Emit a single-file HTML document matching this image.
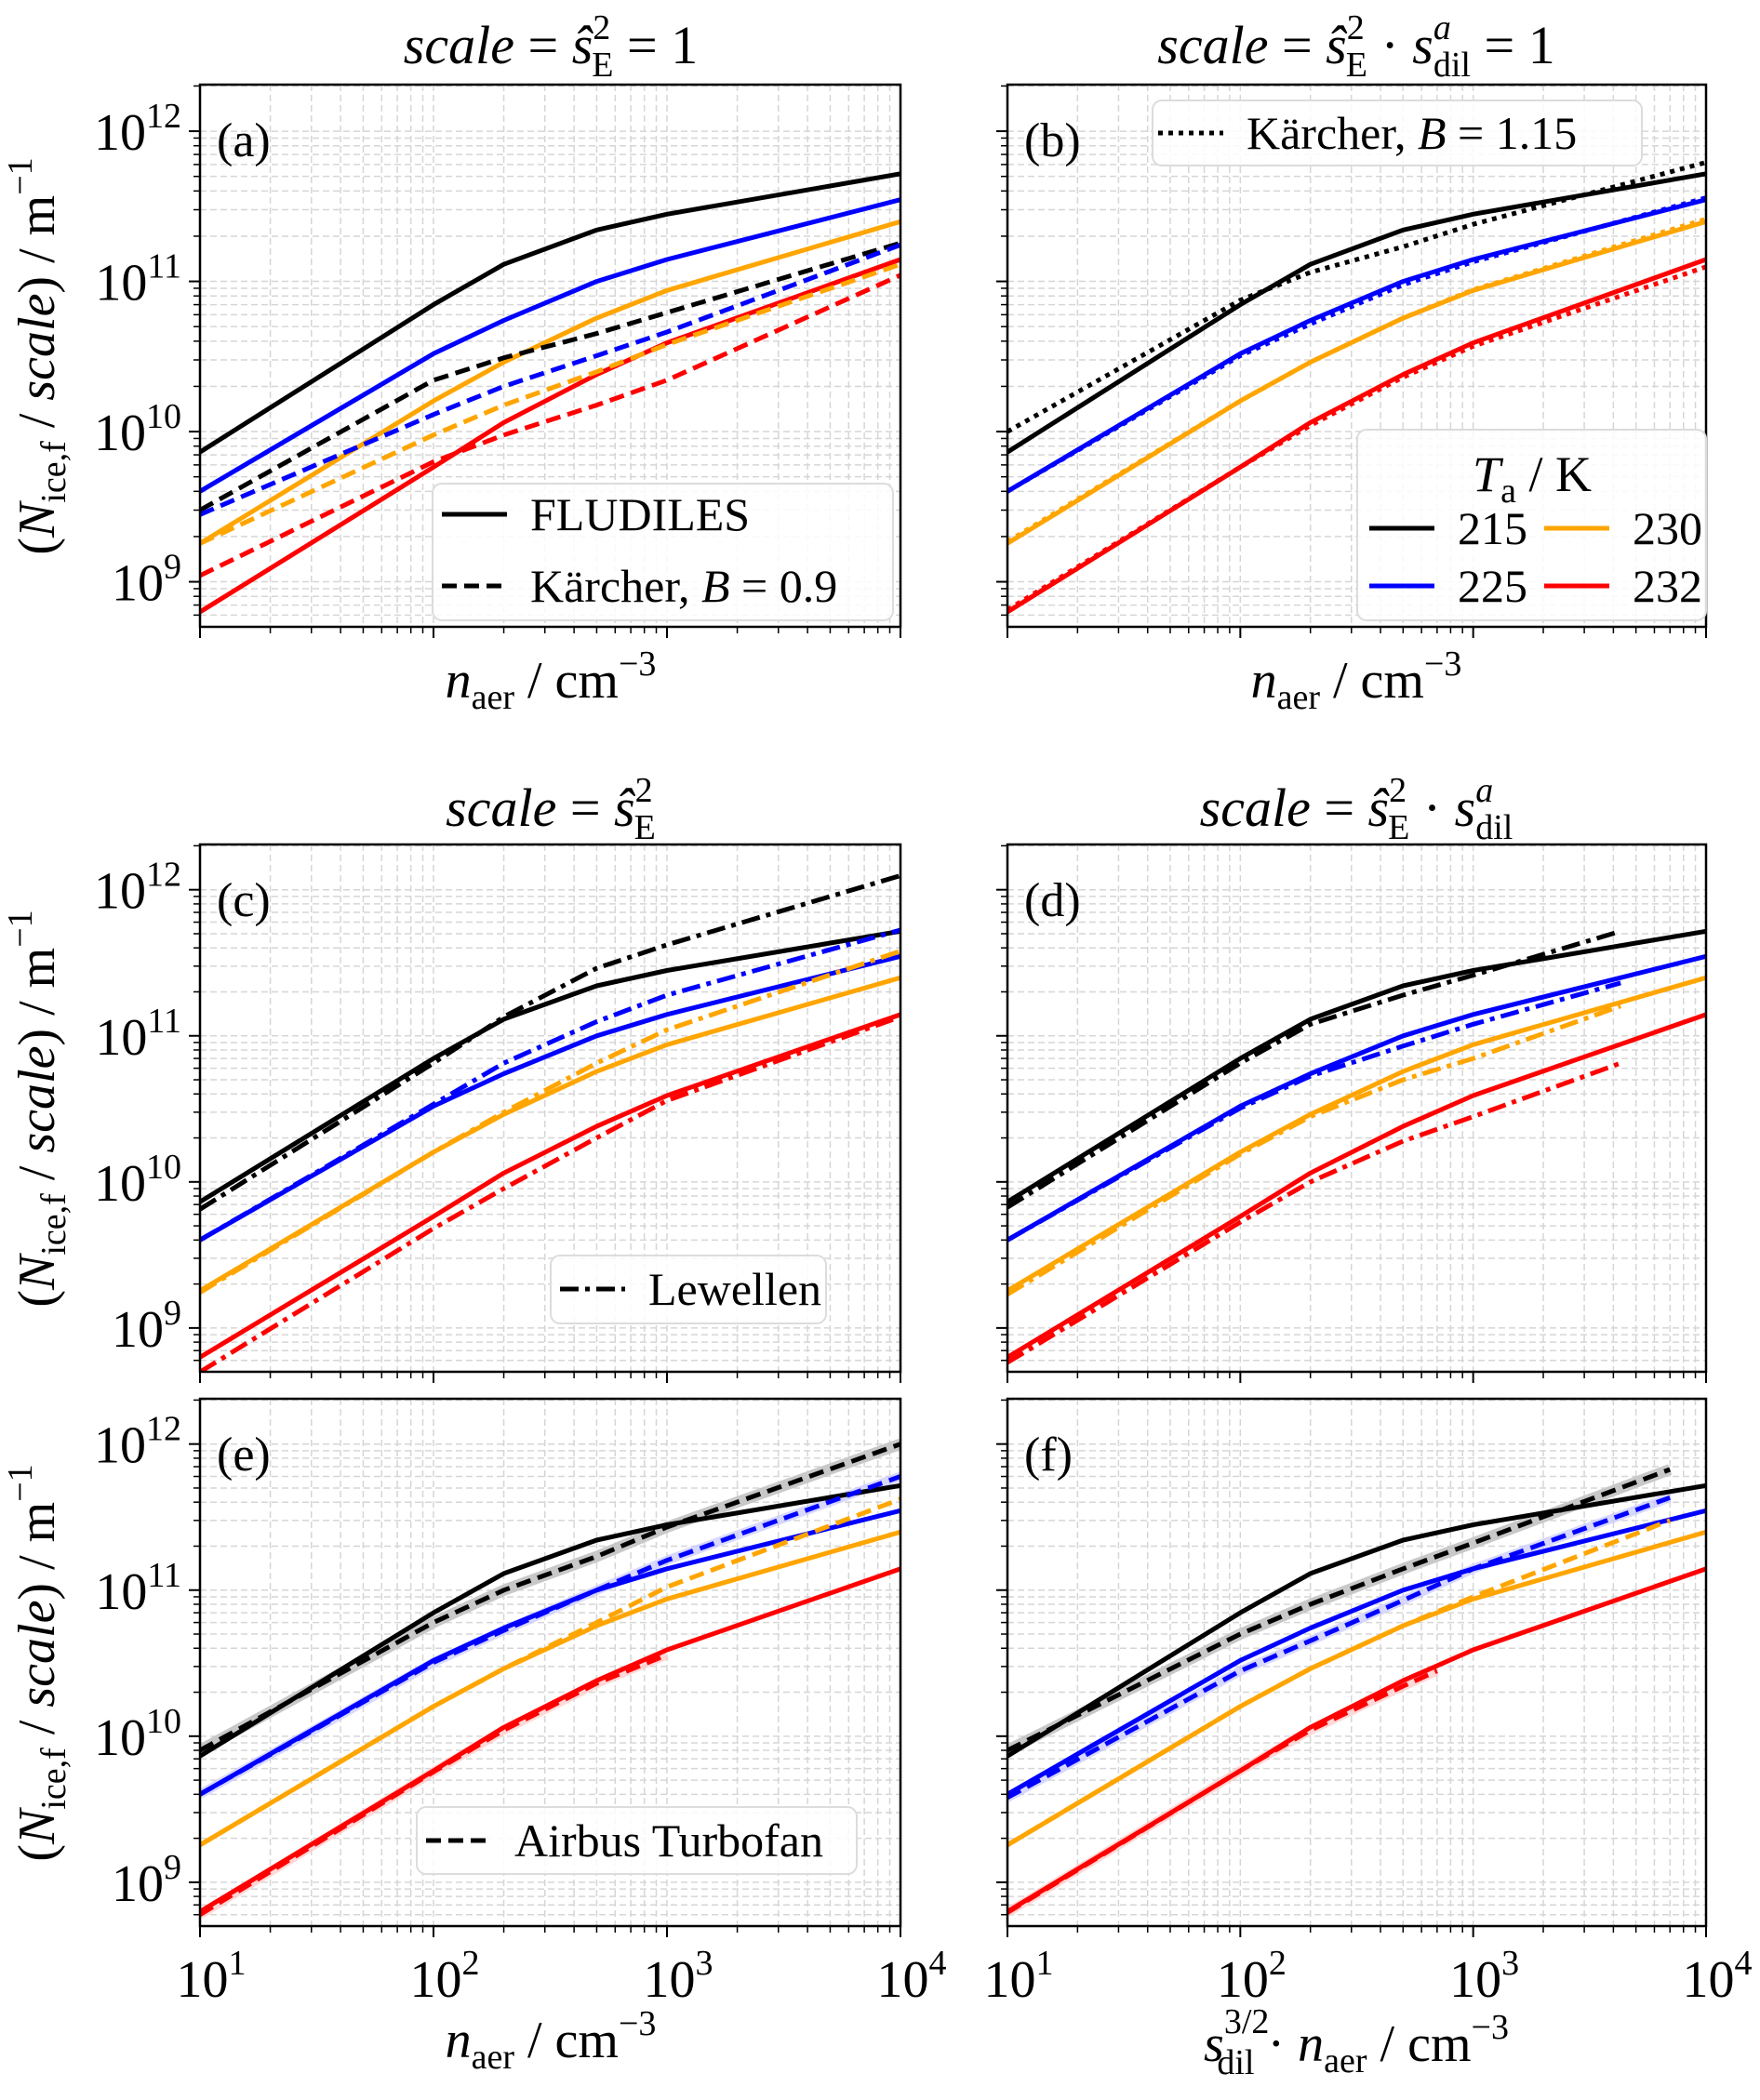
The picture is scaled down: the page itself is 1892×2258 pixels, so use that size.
<!DOCTYPE html>
<html><head><meta charset="utf-8"><style>
html,body{margin:0;padding:0;background:#fff}
svg{display:block;font-family:"Liberation Serif",serif}
</style></head><body>
<svg id="fig" width="1892" height="2258" viewBox="0 0 1892 2258" xmlns="http://www.w3.org/2000/svg"></svg>
<script>
// ---- data ----
const xFlu = [10,100,200,500,1000,10000];
const flu215 = [7.3e9,7e10,1.3e11,2.2e11,2.8e11,5.2e11];
const flu225 = [4e9,3.3e10,5.5e10,1e11,1.4e11,3.5e11];
const flu230 = [1.8e9,1.6e10,2.9e10,5.7e10,8.7e10,2.5e11];
const flu232 = [6.3e8,5.8e9,1.15e10,2.4e10,3.9e10,1.4e11];

const kar09_215 = [3.0e9,2.2e10,3.1e10,4.5e10,6.2e10,1.8e11];
const kar09_225 = [2.8e9,1.3e10,2e10,3.2e10,4.6e10,1.75e11];
const kar09_230 = [1.8e9,9.5e9,1.5e10,2.5e10,3.8e10,1.3e11];
const kar09_232 = [1.1e9,6.3e9,9.5e9,1.5e10,2.2e10,1.1e11];

const kar115_215 = [1e10,7.5e10,1.15e11,1.7e11,2.4e11,6.2e11];
const kar115_225 = [4e9,3.2e10,5.2e10,9.5e10,1.35e11,3.6e11];
const kar115_230 = [1.85e9,1.6e10,2.9e10,5.7e10,8.8e10,2.6e11];
const kar115_232 = [6.5e8,5.8e9,1.1e10,2.3e10,3.7e10,1.25e11];

const lew_215 = [6.5e9,6.5e10,1.35e11,2.9e11,4.2e11,1.25e12];
const lew_225 = [4e9,3.4e10,6.5e10,1.25e11,1.9e11,5.3e11];
const lew_230 = [1.75e9,1.6e10,3e10,6.5e10,1.1e11,3.8e11];
const lew_232 = [5e8,4.8e9,9e9,2e10,3.6e10,1.35e11];

const xLewD = [10,100,200,500,1000,4300];
const lewD_215 = [6.7e9,6.5e10,1.2e11,1.9e11,2.6e11,5.2e11];
const lewD_225 = [4e9,3.2e10,5.3e10,8.5e10,1.2e11,2.3e11];
const lewD_230 = [1.7e9,1.55e10,2.8e10,5e10,7e10,1.6e11];
const lewD_232 = [5.8e8,5.3e9,1e10,1.9e10,2.8e10,6.5e10];

const xAirE = [10,100,200,500,1000,10000];
const airE_215 = [8e9,6e10,1e11,1.7e11,2.7e11,1e12];
const airE_225 = [4e9,3.2e10,5.3e10,1e11,1.6e11,6e11];
const airE_230 = [1.8e9,1.6e10,2.9e10,6e10,1.05e11,4.2e11];
const xAirE232 = [10,100,200,500,1000];
const airE_232 = [6e8,5.7e9,1.1e10,2.3e10,3.6e10];

const xAirF = [10,100,200,500,1000,7000];
const airF_215 = [8e9,5e10,8e10,1.4e11,2.1e11,6.7e11];
const airF_225 = [3.8e9,2.8e10,4.5e10,8.5e10,1.4e11,4.3e11];
const airF_230 = [1.8e9,1.6e10,2.9e10,5.7e10,9e10,3e11];
const xAirF232 = [10,100,200,500,700];
const airF_232 = [6.2e8,5.8e9,1.1e10,2.2e10,2.8e10];

const xTickLabels = ["1","2","3","4"];
const yTickLabels = ["9","10","11","12"];
const colors = {k:"#000",b:"#0000ff",o:"#ffa500",r:"#ff0000"};

// ---- layout ----
const svg = document.getElementById('fig');
const NS = "http://www.w3.org/2000/svg";
function mk(tag, attrs, parent){const e=document.createElementNS(NS,tag);for(const k in attrs)e.setAttribute(k,attrs[k]);(parent||svg).appendChild(e);return e;}
const cols=[[215,968],[1083,1834]];
const rows=[[91,674],[908,1475],[1504,2071]];
const YMIN=8.70,YMAX=12.31;
const LW=5;
function panel(ci,ri,name){
  const [x0,x1]=cols[ci],[y0,y1]=rows[ri];
  const g=mk('g',{});
  
  
  const sx=v=>x0+(Math.log10(v)-1)/3*(x1-x0);
  const sy=v=>y1-(Math.log10(v)-YMIN)/(YMAX-YMIN)*(y1-y0);
  const grid=mk('g',{stroke:'#d6d6d6','stroke-width':1.5,'stroke-dasharray':'7,4'},g);
  
  
  const ticks=mk('g',{stroke:'#000'},g);
  for(let d=1;d<=4;d++)for(let m=1;m<=9;m++){
    const v=m*Math.pow(10,d); if(v>1e4)break;
    const x=sx(v);
    if(x>x0+1&&x<x1-1)mk('line',{x1:x,x2:x,y1:y0,y2:y1},grid);
    mk('line',{x1:x,x2:x,y1:y1,y2:y1+(m==1?12:7),'stroke-width':m==1?2:1.5},ticks);
  }
  for(let d=8;d<=12;d++)for(let m=1;m<=9;m++){
    const v=m*Math.pow(10,d),lv=Math.log10(v); if(lv<YMIN||lv>YMAX)continue;
    const y=sy(v);
    mk('line',{x1:x0,x2:x1,y1:y,y2:y},grid);
    mk('line',{x1:x0,x2:x0-(m==1?12:7),y1:y,y2:y,'stroke-width':m==1?2:1.5},ticks);
  }
  return {g,sx,sy,x0,x1,y0,y1};
}
function line(P,xs,ys,color,dash,name,w,op){
  const d=xs.map((x,i)=>(i?'L':'M')+P.sx(x).toFixed(1)+','+P.sy(ys[i]).toFixed(1)).join('');
  const e=mk('path',{d:d,fill:'none',stroke:color,'stroke-width':w||LW,'stroke-dasharray':dash||'none','stroke-linejoin':'round',opacity:op||1},P.g);
  
  
}
function frame(P,label){
  const f=mk('rect',{x:P.x0,y:P.y0,width:P.x1-P.x0,height:P.y1-P.y0,fill:'none',stroke:'#000','stroke-width':2.5},P.g);
  
  
  const t=mk('text',{x:P.x0+18,y:P.y0+77,'font-size':52},P.g);t.textContent=label;
  
  
}
function clip(P,id){
  const cp=mk('clipPath',{id:id});mk('rect',{x:P.x0,y:P.y0,width:P.x1-P.x0,height:P.y1-P.y0},cp);
  return mk('g',{'clip-path':'url(#'+id+')'},P.g);
}
function fluAll(P){
  line(P,xFlu,flu215,colors.k,null,'fludiles-215');
  line(P,xFlu,flu225,colors.b,null,'fludiles-225');
  line(P,xFlu,flu230,colors.o,null,'fludiles-230');
  line(P,xFlu,flu232,colors.r,null,'fludiles-232');
}
function withClip(P,id,fn){const og=P.g;P.g=clip(P,id);fn();P.g=og;}
function yLabels(P){
  for(let i=0;i<4;i++){
    const y=P.sy(Math.pow(10,+yTickLabels[i]));
    const t=mk('text',{x:P.x0-20,y:y+20,'font-size':56,'text-anchor':'end'},svg);
    
    
    const a=mk('tspan',{},t);a.textContent='10';
    const b=mk('tspan',{dy:-24,'font-size':38},t);b.textContent=yTickLabels[i];
  }
}
function xLabels(P){
  for(let i=0;i<4;i++){
    const x=P.sx(Math.pow(10,+xTickLabels[i]));
    const t=mk('text',{x:x+12,y:P.y1+76,'font-size':56,'text-anchor':'middle'},svg);
    
    
    const a=mk('tspan',{},t);a.textContent='10';
    const b=mk('tspan',{dy:-24,'font-size':38},t);b.textContent=xTickLabels[i];
  }
}
function stext(x,y,content,size,name){
  const t=mk('text',{x:x,y:y,'font-size':size,'text-anchor':'middle'});
  t.innerHTML=content;
  
  
  return t;
}
function legendBox(x,y,w,h,name){
  const r=mk('rect',{x:x,y:y,width:w,height:h,rx:10,fill:'rgba(255,255,255,0.85)',stroke:'#dcdcdc','stroke-width':2});
  
  
}
function legLine(x,y,color,dash,label,name){
  const l=mk('line',{x1:x,x2:x+70,y1:y,y2:y,stroke:color,'stroke-width':5,'stroke-dasharray':dash||'none'});
  
  
  const t=mk('text',{x:x+95,y:y+17,'font-size':50});t.innerHTML=label;
  
  
}

// panel a
const A=panel(0,0,'panel-a');
withClip(A,'ca',()=>{fluAll(A);
  line(A,xFlu,kar09_215,colors.k,'16,8','karcher09-215');
  line(A,xFlu,kar09_225,colors.b,'16,8','karcher09-225');
  line(A,xFlu,kar09_230,colors.o,'16,8','karcher09-230');
  line(A,xFlu,kar09_232,colors.r,'16,8','karcher09-232');});
frame(A,'(a)');
// panel b
const B=panel(1,0,'panel-b');
withClip(B,'cb',()=>{fluAll(B);
  line(B,xFlu,kar115_215,colors.k,'5,6','karcher115-215');
  line(B,xFlu,kar115_225,colors.b,'5,6','karcher115-225');
  line(B,xFlu,kar115_230,colors.o,'5,6','karcher115-230');
  line(B,xFlu,kar115_232,colors.r,'5,6','karcher115-232');});
frame(B,'(b)');
// panel c
const C=panel(0,1,'panel-c');
withClip(C,'cc',()=>{fluAll(C);
  line(C,xFlu,lew_215,colors.k,'20,7,5,7','lewellen-215');
  line(C,xFlu,lew_225,colors.b,'20,7,5,7','lewellen-225');
  line(C,xFlu,lew_230,colors.o,'20,7,5,7','lewellen-230');
  line(C,xFlu,lew_232,colors.r,'20,7,5,7','lewellen-232');});
frame(C,'(c)');
// panel d
const D=panel(1,1,'panel-d');
withClip(D,'cd',()=>{fluAll(D);
  line(D,xLewD,lewD_215,colors.k,'20,7,5,7','lewellen-scaled-215');
  line(D,xLewD,lewD_225,colors.b,'20,7,5,7','lewellen-scaled-225');
  line(D,xLewD,lewD_230,colors.o,'20,7,5,7','lewellen-scaled-230');
  line(D,xLewD,lewD_232,colors.r,'20,7,5,7','lewellen-scaled-232');});
frame(D,'(d)');
// panel e
const E=panel(0,2,'panel-e');
withClip(E,'ce',()=>{
  line(E,xAirE,airE_215,'#c8c8c8',null,'airbus-band-215',12);
  line(E,xAirE,airE_225,'#c8c8ff',null,'airbus-band-225',10,0.7);
  line(E,xAirE232,airE_232,'#ffc8c8',null,'airbus-band-232',10,0.7);
  fluAll(E);
  line(E,xAirE,airE_215,colors.k,'16,8','airbus-215');
  line(E,xAirE,airE_225,colors.b,'16,8','airbus-225');
  line(E,xAirE,airE_230,colors.o,'16,8','airbus-230');
  line(E,xAirE232,airE_232,colors.r,'16,8','airbus-232');});
frame(E,'(e)');
// panel f
const F=panel(1,2,'panel-f');
withClip(F,'cf',()=>{
  line(F,xAirF,airF_215,'#c8c8c8',null,'airbus-band-215',12);
  line(F,xAirF,airF_225,'#c8c8ff',null,'airbus-band-225',10,0.7);
  line(F,xAirF232,airF_232,'#ffc8c8',null,'airbus-band-232',10,0.7);
  fluAll(F);
  line(F,xAirF,airF_215,colors.k,'16,8','airbus-scaled-215');
  line(F,xAirF,airF_225,colors.b,'16,8','airbus-scaled-225');
  line(F,xAirF,airF_230,colors.o,'16,8','airbus-scaled-230');
  line(F,xAirF232,airF_232,colors.r,'16,8','airbus-scaled-232');});
frame(F,'(f)');

[A,C,E].forEach(yLabels);
[E,F].forEach(xLabels);

// titles
const SE='<tspan font-style="italic">ŝ</tspan><tspan font-size="38" dy="-26">2</tspan><tspan font-size="38" dx="-20" dy="40">E</tspan><tspan dy="-14"> </tspan>';
const SDIL='<tspan font-style="italic">s</tspan><tspan font-size="38" font-style="italic" dy="-26">a</tspan><tspan font-size="38" dx="-19" dy="40">dil</tspan><tspan dy="-14"> </tspan>';
stext(592,68,'<tspan font-style="italic">scale</tspan> = '+SE+'= 1',58,'title-a');
stext(1458,68,'<tspan font-style="italic">scale</tspan> = '+SE+'· '+SDIL+'= 1',58,'title-b');
stext(592,888,'<tspan font-style="italic">scale</tspan> = '+SE,58,'title-c');
stext(1458,888,'<tspan font-style="italic">scale</tspan> = '+SE+'· '+SDIL,58,'title-d');

// x axis labels
const NAER='<tspan font-style="italic">n</tspan><tspan font-size="38" dy="12">aer</tspan><tspan dy="-12"> / cm</tspan><tspan font-size="38" dy="-24">−3</tspan>';
stext(592,750,NAER,56,'x-axis-title-a');
stext(1458,750,NAER,56,'x-axis-title-b');
stext(592,2212,NAER,56,'x-axis-title-e');
stext(1458,2216,'<tspan font-style="italic">s</tspan><tspan font-size="38" dy="-30">3/2</tspan><tspan font-size="38" dx="-56" dy="44">dil</tspan><tspan dy="-14"> · </tspan>'+NAER,56,'x-axis-title-f');

// y axis labels (rotated)
function yTitle(cy,name){
  const g=mk('g',{transform:'translate(58,'+cy+') rotate(-90)'});
  
  
  const t=mk('text',{x:0,y:0,'font-size':56,'text-anchor':'middle'},g);
  t.innerHTML='(<tspan font-style="italic">N</tspan><tspan font-size="38" dy="12">ice,f</tspan><tspan dy="-12"> / </tspan><tspan font-style="italic">scale</tspan>) / m<tspan font-size="38" dy="-24">−1</tspan>';
}
yTitle(383,'y-axis-title-a');yTitle(1192,'y-axis-title-c');yTitle(1788,'y-axis-title-e');

// legends
legendBox(465,520,495,147,'legend-a');
legLine(475,553,'#000',null,'FLUDILES','legend-fludiles');
legLine(475,630,'#000','16,8','Kärcher, <tspan font-style="italic">B</tspan> = 0.9','legend-karcher-09');
legendBox(1239,108,526,70,'legend-b-karcher');
legLine(1245,143,'#000','5,6','Kärcher, <tspan font-style="italic">B</tspan> = 1.15','legend-karcher-115');
legendBox(1459,462,375,205,'legend-temperature');
stext(1647,528,'<tspan font-style="italic">T</tspan><tspan font-size="38" dy="12">a</tspan><tspan dy="-12"> / K</tspan>',54,'legend-temperature-title');
legLine(1472,568,colors.k,null,'215','legend-215');
legLine(1472,630,colors.b,null,'225','legend-225');
legLine(1660,568,colors.o,null,'230','legend-230');
legLine(1660,630,colors.r,null,'232','legend-232');
legendBox(592,1350,296,73,'legend-c');
legLine(602,1386,'#000','20,7,5,7','Lewellen','legend-lewellen');
legendBox(448,1943,473,72,'legend-e');
legLine(458,1979,'#000','16,8','Airbus Turbofan','legend-airbus');
</script>
</body></html>
